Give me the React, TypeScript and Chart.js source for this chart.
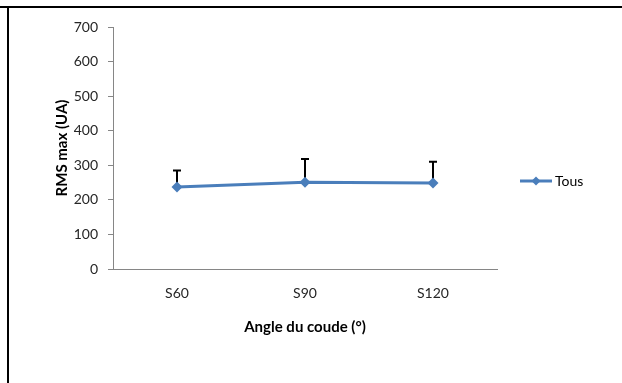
import React, { useEffect, useRef } from "react";
import { Chart, registerables } from "chart.js";

Chart.register(...registerables);

const categories = ["S60", "S90", "S120"];
const seriesName = "Tous";
const values = [237, 251, 249];
const errorsUp = [48, 67, 61];
const yTicks = [0, 100, 200, 300, 400, 500, 600, 700];

const FONT = "Lato, 'Open Sans', sans-serif";
const BLUE = "#4A7EBB";
const AXIS = "#868686";

const borderPlugin = {
  id: "pageBorder",
  beforeDraw(chart: any) {
    const ctx = chart.ctx;
    ctx.save();
    ctx.fillStyle = "#000";
    ctx.fillRect(0, 6, chart.width, 2);
    ctx.fillRect(7, 6, 2, chart.height - 6);
    ctx.restore();
  },
};

const errorBarPlugin = {
  id: "errorBars",
  beforeDatasetsDraw(chart: any) {
    const ctx = chart.ctx;
    const meta = chart.getDatasetMeta(0);
    const y = chart.scales.y;
    ctx.save();
    ctx.strokeStyle = "#000";
    ctx.lineWidth = 2;
    meta.data.forEach((pt: any, i: number) => {
      const top = y.getPixelForValue(values[i] + errorsUp[i]);
      const x = Math.round(pt.x);
      ctx.beginPath();
      ctx.moveTo(x, pt.y);
      ctx.lineTo(x, top);
      ctx.moveTo(x - 4, top);
      ctx.lineTo(x + 4, top);
      ctx.stroke();
    });
    ctx.restore();
  },
};

const legendPlugin = {
  id: "customLegend",
  afterDraw(chart: any) {
    const ctx = chart.ctx;
    const ly = 181;
    ctx.save();
    ctx.strokeStyle = BLUE;
    ctx.lineWidth = 3;
    ctx.beginPath();
    ctx.moveTo(520, ly);
    ctx.lineTo(552, ly);
    ctx.stroke();
    ctx.fillStyle = BLUE;
    const r = 4.5;
    ctx.beginPath();
    ctx.moveTo(536, ly - r);
    ctx.lineTo(536 + r, ly);
    ctx.lineTo(536, ly + r);
    ctx.lineTo(536 - r, ly);
    ctx.closePath();
    ctx.fill();
    ctx.fillStyle = "#000";
    ctx.font = `14px ${FONT}`;
    ctx.textAlign = "left";
    ctx.textBaseline = "middle";
    ctx.fillText(seriesName, 555, ly);
    ctx.restore();
  },
};

export default function App() {
  const ref = useRef<HTMLCanvasElement>(null);
  useEffect(() => {
    if (!ref.current) return;
    const chart = new Chart(ref.current, {
      type: "line",
      data: {
        labels: categories,
        datasets: [
          {
            label: seriesName,
            data: values,
            borderColor: BLUE,
            backgroundColor: BLUE,
            borderWidth: 3,
            pointStyle: "rectRot",
            pointRadius: 5.5,
            pointBorderWidth: 0,
            tension: 0,
          },
        ],
      },
      options: {
        responsive: false,
        animation: false,
        layout: { padding: { left: 0, right: 125, top: 27, bottom: 0 } },
        plugins: { legend: { display: false }, tooltip: { enabled: false } },
        scales: {
          x: {
            offset: true,
            grid: { display: false, drawTicks: false },
            border: { color: AXIS, width: 1 },
            ticks: { color: "#262626", font: { family: FONT, size: 14 }, padding: 16 },
            title: {
              display: true,
              text: "Angle du coude (°)",
              color: "#000",
              font: { family: FONT, size: 15, weight: "bold" },
              padding: { top: 0, bottom: 47 },
            },
            afterFit(scale: any) {
              scale.height = 114;
            },
          },
          y: {
            min: 0,
            max: 700,
            afterBuildTicks(scale: any) {
              scale.ticks = yTicks.map((v) => ({ value: v }));
            },
            grid: {
              drawOnChartArea: false,
              drawTicks: true,
              tickLength: 5,
              color: AXIS,
            },
            border: { color: AXIS, width: 1 },
            ticks: { color: "#262626", font: { family: FONT, size: 14 }, padding: 10 },
            title: {
              display: true,
              text: "RMS max (UA)",
              color: "#000",
              font: { family: FONT, size: 15, weight: "bold" },
              padding: { top: 53, bottom: 0 },
            },
            afterFit(scale: any) {
              scale.width = 113;
            },
          },
        },
      },
      plugins: [borderPlugin, errorBarPlugin, legendPlugin],
    } as any);
    return () => chart.destroy();
  }, []);
  return (
    <div style={{ position: "fixed", left: 0, top: 0, width: 622, height: 383, background: "#fff" }}>
      <canvas ref={ref} width={622} height={383} style={{ display: "block" }} />
    </div>
  );
}
